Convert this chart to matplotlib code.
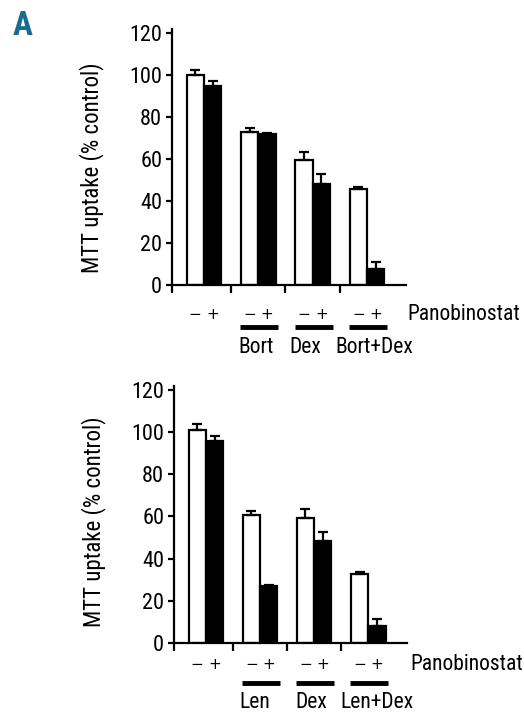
import matplotlib.pyplot as plt
import numpy as np

plt.rcParams['font.family'] = ['Roboto Condensed', 'Archivo Narrow', 'PT Sans Narrow',
                               'Liberation Sans Narrow', 'Arial Narrow', 'DejaVu Sans']

groups = ['', 'Bort', 'Dex', 'Bort+Dex']
groups_b = ['', 'Len', 'Dex', 'Len+Dex']

# panel 1: - / + panobinostat
top_minus = [100, 73, 59.5, 46]
top_minus_err = [2.5, 2, 4, 1]
top_plus = [95, 72, 48, 7.5]
top_plus_err = [2.5, 0.6, 5, 3.5]

# panel 2
bot_minus = [101, 60.5, 59.5, 32.5]
bot_minus_err = [3, 2, 4, 1.2]
bot_plus = [95.8, 26.8, 48.3, 7.8]
bot_plus_err = [2.6, 0.4, 4.5, 3.5]

yticks = [0, 20, 40, 60, 80, 100, 120]


def draw_panel(ax, minus, minus_err, plus, plus_err, labels, y_pm, y_line, y_lab, pano_x, lab_shift):
    x = np.arange(len(minus))
    w = 0.32
    ax.bar(x - w / 2, minus, w, color='white', edgecolor='black', linewidth=1.6, zorder=2)
    ax.bar(x + w / 2, plus, w, color='black', edgecolor='black', linewidth=1.6, zorder=2)
    ax.errorbar(x - w / 2, minus, yerr=[np.zeros(len(minus)), minus_err], fmt='none',
                ecolor='black', elinewidth=1.6, capsize=3.5, capthick=1.6, zorder=3)
    ax.errorbar(x + w / 2, plus, yerr=[np.zeros(len(plus)), plus_err], fmt='none',
                ecolor='black', elinewidth=1.6, capsize=3.5, capthick=1.6, zorder=3)

    ax.set_xlim(-0.59, 3.72)
    ax.set_ylim(0, 122)
    ax.set_yticks(yticks)
    ax.set_xticks([-0.59, 0.5, 1.5, 2.5])
    ax.set_xticklabels([])
    ax.spines['top'].set_visible(False)
    ax.spines['right'].set_visible(False)
    for s in ['left', 'bottom']:
        ax.spines[s].set_linewidth(1.6)
    ax.tick_params(axis='y', length=4, width=1.6, labelsize=16, pad=3)
    ax.tick_params(axis='x', length=6, width=1.6)
    ax.set_ylabel('MTT uptake (% control)', fontsize=16.5)

    for i in x:
        ax.text(i - w / 2, y_pm, '\u2212', ha='center', va='center', fontsize=11,
                family='DejaVu Sans', clip_on=False)
        ax.text(i + w / 2, y_pm, '+', ha='center', va='center', fontsize=11,
                family='DejaVu Sans', clip_on=False)
    ax.text(pano_x, y_pm, 'Panobinostat', ha='left', va='center', fontsize=15.5, clip_on=False)

    for i, lab in enumerate(labels):
        if not lab:
            continue
        ax.plot([i - 0.33, i + 0.37], [y_line, y_line], color='black', linewidth=3.5,
                solid_capstyle='butt', clip_on=False)
        ax.text(i + lab_shift[i], y_lab, lab, ha='center', va='center', fontsize=15.5, clip_on=False)


fig = plt.figure(figsize=(5.24, 7.13), dpi=100)
ax1 = fig.add_axes([0.328, 0.600, 0.447, 0.359])
ax2 = fig.add_axes([0.332, 0.0986, 0.445, 0.360])

draw_panel(ax1, top_minus, top_minus_err, top_plus, top_plus_err, groups,
           -14, -20, -29.5, 3.74, [0, -0.04, -0.13, 0.14])
draw_panel(ax2, bot_minus, bot_minus_err, bot_plus, bot_plus_err, groups_b,
           -10.6, -19.1, -28.6, 3.78, [0, -0.1, -0.05, 0.17])

ax1.yaxis.set_label_coords(-0.29, 0.459)
ax2.yaxis.set_label_coords(-0.29, 0.47)

fig.text(0.024, 0.986, 'A', fontsize=24, fontweight='bold', color='#1a6a96', ha='left', va='top')

fig.savefig('out.png', dpi=100)
